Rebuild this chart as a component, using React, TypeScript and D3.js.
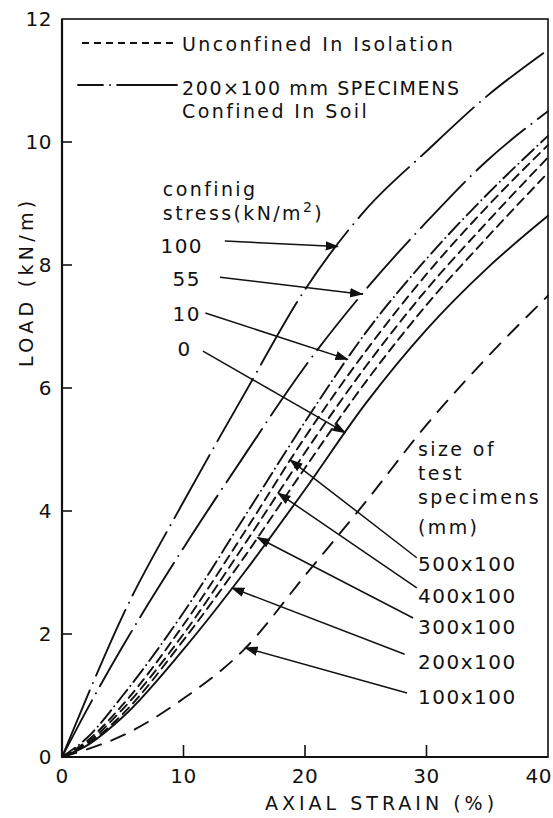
import React from 'react'
import * as d3 from 'd3'

const strain = [0, 2, 5, 10, 15, 20, 25, 30, 35, 40]

// 200x100 specimens confined in soil, by confining stress (kN/m2)
const confined100 = [0, 0.95, 2.3, 4.15, 5.9, 7.6, 8.9, 9.85, 10.75, 11.5]
const confined55 = [0, 0.75, 1.8, 3.4, 4.9, 6.35, 7.6, 8.7, 9.7, 10.5]
const confined10 = [0, 0.3, 1.0, 2.35, 3.9, 5.45, 6.9, 8.1, 9.15, 10.1]

// unconfined in isolation, by specimen size (mm)
const size500 = [0, 0.25, 0.85, 2.15, 3.65, 5.2, 6.6, 7.85, 8.95, 9.95]
const size400 = [0, 0.22, 0.78, 2.0, 3.45, 4.95, 6.35, 7.6, 8.7, 9.75]
const size300 = [0, 0.2, 0.7, 1.9, 3.25, 4.7, 6.1, 7.35, 8.45, 9.5]
const size200 = [0, 0.18, 0.65, 1.75, 3.0, 4.35, 5.75, 6.95, 7.95, 8.8]
const size100 = [0, 0.12, 0.35, 0.95, 1.75, 2.95, 4.15, 5.4, 6.5, 7.5]

const xTicks = [0, 10, 20, 30, 40]
const yTicks = [0, 2, 4, 6, 8, 10, 12]

const confiningStress = ['100', '55', '10', '0']
const confiningCurves = [confined100, confined55, confined10, size200]
const confiningTarget = [22.7, 24.7, 23.5, 23.3]

const sizeLabels = ['500x100', '400x100', '300x100', '200x100', '100x100']
const sizeCurves = [size500, size400, size300, size200, size100]
const sizeTarget = [18.8, 17.8, 16.1, 14, 15.1]

const sizeHeader = ['size of', 'test', 'specimens', '(mm)']

// layout (data units) for callout text and leader start
const confiningText = [[8.1, 8.2], [9.1, 7.66], [9.1, 7.09], [9.5, 6.52]]
const confiningFrom = [[13.4, 8.39], [13.0, 7.8], [11.8, 7.22], [11.6, 6.6]]
const sizeText = [[29.3, 3.02], [29.3, 2.5], [29.3, 2.0], [29.3, 1.43], [29.3, 0.86]]
const sizeFrom = [[29.2, 3.24], [29.2, 2.75], [28.9, 2.26], [28.2, 1.67], [28.4, 1.04]]
const sizeHeaderY = [4.9, 4.51, 4.12, 3.63]

const W = 553
const H = 818
const font = '"DejaVu Sans", sans-serif'

const x = d3.scaleLinear().domain([0, 40]).range([62, 548])
const y = d3.scaleLinear().domain([0, 12]).range([757, 19])

const line = d3
  .line<number>()
  .x((_, i) => x(strain[i]))
  .y((d) => y(d))
  .curve(d3.curveMonotoneX)

const loadAt = (vals: number[], s: number) => {
  const i = Math.min(d3.bisectRight(strain, s) - 1, strain.length - 2)
  const t = (s - strain[i]) / (strain[i + 1] - strain[i])
  return vals[i] + t * (vals[i + 1] - vals[i])
}

const curveStyles = [
  { vals: confined100, dash: '72,8,0.1,8' },
  { vals: confined55, dash: '64,8,0.1,8' },
  { vals: confined10, dash: '16,5,0.1,5' },
  { vals: size500, dash: '9,6' },
  { vals: size400, dash: '9,6' },
  { vals: size300, dash: '9,6' },
  { vals: size200, dash: 'none' },
  { vals: size100, dash: '15,11' },
]

const txt = { fontFamily: font, fontSize: 20, letterSpacing: 1.5, fill: '#111' }
const wide = { ...txt, fontSize: 19, letterSpacing: 2.4 }

export default function App() {
  return (
    <svg
      width={W}
      height={H}
      style={{ position: 'absolute', left: 0, top: 0, background: '#fff' }}
    >
      <defs>
        <marker id="arr" viewBox="0 0 10 10" refX="9" refY="5" markerWidth="9" markerHeight="9" orient="auto">
          <path d="M0,1.5 L10,5 L0,8.5 z" fill="#111" />
        </marker>
      </defs>

      {/* frame */}
      <rect x={x(0)} y={y(12)} width={x(40) - x(0)} height={y(0) - y(12)} fill="none" stroke="#111" strokeWidth={1.6} />
      <line x1={x(0)} x2={x(0)} y1={y(12)} y2={y(0)} stroke="#111" strokeWidth={2.2} />
      <line x1={x(0)} x2={x(40)} y1={y(0)} y2={y(0)} stroke="#111" strokeWidth={2.2} />

      {yTicks.map((t) => (
        <g key={'y' + t}>
          {t > 0 && t < 12 && <line x1={x(0)} x2={x(0) + 10} y1={y(t)} y2={y(t)} stroke="#111" strokeWidth={1.6} />}
          <text x={x(0) - 10} y={y(t) + 7} textAnchor="end" style={{ ...txt, letterSpacing: 0.5 }}>{t}</text>
        </g>
      ))}
      {xTicks.map((t) => (
        <g key={'x' + t}>
          {t > 0 && t < 40 && <line x1={x(t)} x2={x(t)} y1={y(0)} y2={y(0) - 12} stroke="#111" strokeWidth={1.6} />}
          <text
            x={t === 40 ? W - 1 : x(t)}
            y={783}
            textAnchor={t === 40 ? 'end' : 'middle'}
            style={{ ...txt, letterSpacing: 0.5 }}
          >
            {t}
          </text>
        </g>
      ))}

      <text x={265} y={810} style={{ ...txt, fontSize: 19, letterSpacing: 4 }}>AXIAL STRAIN (%)</text>
      <text
        transform={`translate(33,${367}) rotate(-90)`}
        style={{ ...txt, fontSize: 19, letterSpacing: 4.3 }}
      >
        LOAD (kN/m)
      </text>

      {/* curves */}
      {curveStyles.map((c, i) => (
        <path
          key={i}
          d={line(c.vals) || ''}
          fill="none"
          stroke="#111"
          strokeWidth={1.9}
          strokeDasharray={c.dash}
          strokeLinecap="round"
        />
      ))}

      {/* legend */}
      <line x1={82} x2={175} y1={43} y2={43} stroke="#111" strokeWidth={1.8} strokeDasharray="7,5" />
      <text x={182} y={51} style={wide}>Unconfined In Isolation</text>
      <line x1={78} x2={177} y1={85} y2={85} stroke="#111" strokeWidth={1.8} strokeDasharray="25,7,0.1,7,200" strokeLinecap="round" />
      <text x={182} y={95} style={{ ...wide, letterSpacing: 1.6 }}>200×100 mm  SPECIMENS</text>
      <text x={182} y={118} style={wide}>Confined In Soil</text>

      {/* confining stress callouts */}
      <text x={x(8.3)} y={y(9.12)} style={wide}>confinig</text>
      <text x={x(8.3)} y={y(8.73)} style={wide}>
        stress(kN/m<tspan dy={-8} fontSize={14}>2</tspan><tspan dy={8}>)</tspan>
      </text>
      {confiningStress.map((s, i) => {
        const tx = confiningTarget[i]
        return (
          <g key={s}>
            <text x={x(confiningText[i][0])} y={y(confiningText[i][1])} style={txt}>{s}</text>
            <line
              x1={x(confiningFrom[i][0])}
              y1={y(confiningFrom[i][1])}
              x2={x(tx)}
              y2={y(loadAt(confiningCurves[i], tx))}
              stroke="#111"
              strokeWidth={1.5}
              markerEnd="url(#arr)"
            />
          </g>
        )
      })}

      {/* specimen size callouts */}
      {sizeHeader.map((t, i) => (
        <text key={t} x={x(29.3)} y={y(sizeHeaderY[i])} style={wide}>{t}</text>
      ))}
      {sizeLabels.map((s, i) => {
        const tx = sizeTarget[i]
        return (
          <g key={s}>
            <text x={x(sizeText[i][0])} y={y(sizeText[i][1])} style={txt}>{s}</text>
            <line
              x1={x(sizeFrom[i][0])}
              y1={y(sizeFrom[i][1])}
              x2={x(tx)}
              y2={y(loadAt(sizeCurves[i], tx))}
              stroke="#111"
              strokeWidth={1.5}
              markerEnd="url(#arr)"
            />
          </g>
        )
      })}
    </svg>
  )
}
